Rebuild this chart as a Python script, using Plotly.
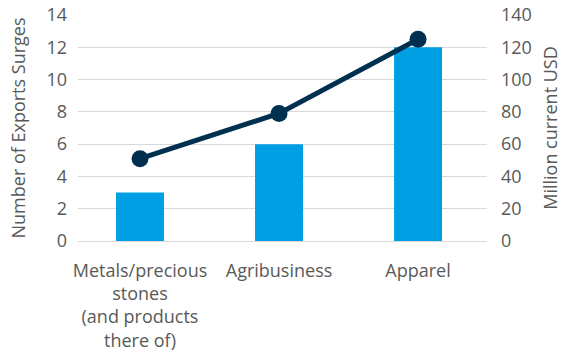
import plotly.graph_objects as go

categories = ["Metals/precious<br>stones<br>(and products<br>there of)", "Agribusiness", "Apparel"]
surges = [3, 6, 12]
usd_million = [51, 79, 125]
left_ticks = [0, 2, 4, 6, 8, 10, 12, 14]
right_ticks = [0, 20, 40, 60, 80, 100, 120, 140]

FONT = "Open Sans"
TXT = "#595959"
FS = 18

fig = go.Figure()
fig.add_trace(go.Bar(x=[0, 1, 2], y=surges, marker=dict(color="#009FE3", line=dict(width=0)),
                     width=0.345, yaxis="y", name="Surges"))
fig.add_trace(go.Scatter(x=[0, 1, 2], y=usd_million, mode="lines+markers", yaxis="y2",
                         line=dict(color="#00304F", width=5),
                         marker=dict(color="#00304F", size=17), name="USD"))

fig.update_layout(
    width=562, height=362,
    margin=dict(l=78, r=75, t=15, b=121, autoexpand=False),
    paper_bgcolor="white", plot_bgcolor="white",
    showlegend=False,
    font=dict(family=FONT, color=TXT, size=FS),
    xaxis=dict(range=[-0.446, 2.496], tickmode="array", tickvals=[0, 1, 2], ticktext=categories,
               showgrid=False, zeroline=False, showline=True, linecolor="#D9D9D9", linewidth=1,
               ticks="", tickfont=dict(size=FS, color=TXT), tickangle=0, automargin=False,
               ticklabelstandoff=13),
    yaxis=dict(range=[0, 14], tickmode="array", tickvals=left_ticks, automargin=False,
               showgrid=True, gridcolor="#D9D9D9", gridwidth=1, zeroline=False,
               tickfont=dict(size=FS, color=TXT), ticks="", ticklabelstandoff=10,
               title=dict(text="Number of Exports Surges", font=dict(size=FS, color=TXT), standoff=16)),
    yaxis2=dict(range=[0, 140], tickmode="array", tickvals=right_ticks, overlaying="y", side="right",
                showgrid=False, zeroline=False, tickfont=dict(size=FS, color=TXT), ticks="",
                ticklabelstandoff=13, automargin=False,
                title=dict(text="Million current USD", font=dict(size=FS, color=TXT), standoff=18)),
)

fig.write_html("out.html", config={"displayModeBar": False},
               post_script="document.body.style.margin='0';document.body.style.padding='0';")
